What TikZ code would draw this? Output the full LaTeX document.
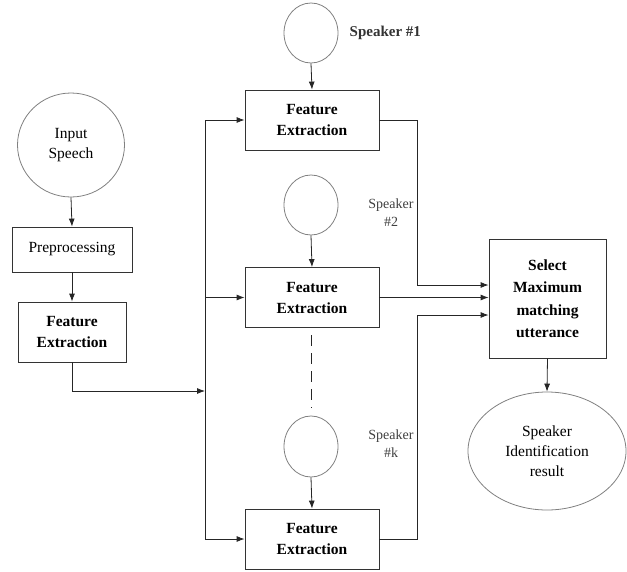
\documentclass[tikz,border=0pt]{standalone}
\usepackage{fontspec}
\setmainfont{LiberationSerif-Regular.ttf}[BoldFont=LiberationSerif-Bold.ttf]
\usetikzlibrary{shapes.geometric,arrows.meta}
\begin{document}
\begin{tikzpicture}[x=1pt,y=-1pt,
  line width=0.8pt,
  conn/.style={draw=black!85},
  arr/.style={conn,-{Latex[length=8pt,width=6pt]}},
  boxn/.style={draw=black!80,rectangle,inner sep=0pt,align=center,font=\fontsize{15.5}{21}\selectfont},
  bfn/.style={font=\bfseries\fontsize{15.5}{21}\selectfont},
  ell/.style={draw=black!50,ellipse,inner sep=0pt,align=center,font=\fontsize{15.5}{20}\selectfont},
  spk/.style={align=center,font=\fontsize{14}{18}\selectfont,text=black!75}
]
\useasboundingbox (0,0) rectangle (627,571);
% left column
\node[ell,minimum width=107,minimum height=104] (inp) at (71,145) {Input\\Speech};
\node[boxn,minimum width=120,minimum height=45] (pre) at (72,249.5) {Preprocessing};
\node[boxn,bfn,minimum width=108,minimum height=60] (fe0) at (72,332) {Feature\\Extraction};
% speakers
\node[ell,minimum width=54,minimum height=60] (s1) at (311,33) {};
\node[ell,minimum width=54,minimum height=60] (s2) at (311,205) {};
\node[ell,minimum width=54,minimum height=61] (sk) at (311,446.5) {};
\node[anchor=west,font=\bfseries\fontsize{15}{18}\selectfont,text=black!80] (l1) at (346,33) {Speaker \#1};
\node[spk] (l2) at (391,213) {Speaker\\\#2};
\node[spk] (lk) at (391,444) {Speaker\\\#k};
% feature extraction boxes
\node[boxn,bfn,minimum width=134,minimum height=60] (fe1) at (312,120) {Feature\\Extraction};
\node[boxn,bfn,minimum width=134,minimum height=60] (fe2) at (312,297.5) {Feature\\Extraction};
\node[boxn,bfn,minimum width=134,minimum height=60] (fe3) at (312,539) {Feature\\Extraction};
% select and result
\node[boxn,minimum width=117,minimum height=119,font=\bfseries\fontsize{15.5}{22.5}\selectfont] (sel) at (547.5,298.5) {Select\\Maximum\\matching\\utterance};
\node[ell,minimum width=158,minimum height=118] (res) at (547,451) {Speaker\\Identification\\result};
% coordinates
\coordinate (b0) at (205,391);
\coordinate (btop) at (205,120);
\coordinate (bmid) at (205,297.5);
\coordinate (bbot) at (205,539);
\coordinate (o1) at (417,285);
\coordinate (o3) at (417,315);
\coordinate (d1) at (311,335);
\coordinate (d2) at (311,408);
% connectors left
\draw[arr] (inp.south) -- (pre.north);
\draw[arr] (pre.south) -- (fe0.north);
\draw[arr] (fe0.south) |- (b0);
\draw[conn] (btop) -- (bbot);
\draw[arr] (btop) -- (fe1.west);
\draw[arr] (bmid) -- (fe2.west);
\draw[arr] (bbot) -- (fe3.west);
% speakers to boxes
\draw[arr] (s1.south) -- (fe1.north);
\draw[arr] (s2.south) -- (fe2.north);
\draw[arr] (sk.south) -- (fe3.north);
\draw[conn,dash pattern=on 11pt off 7pt] (d1) -- (d2);
% outputs
\draw[arr] (fe1.east) -| (o1) -- (o1 -| sel.west);
\draw[arr] (fe2.east) -- (fe2.east -| sel.west);
\draw[arr] (fe3.east) -| (o3) -- (o3 -| sel.west);
\draw[arr] (sel.south) -- (res.north);
\end{tikzpicture}
\end{document}
